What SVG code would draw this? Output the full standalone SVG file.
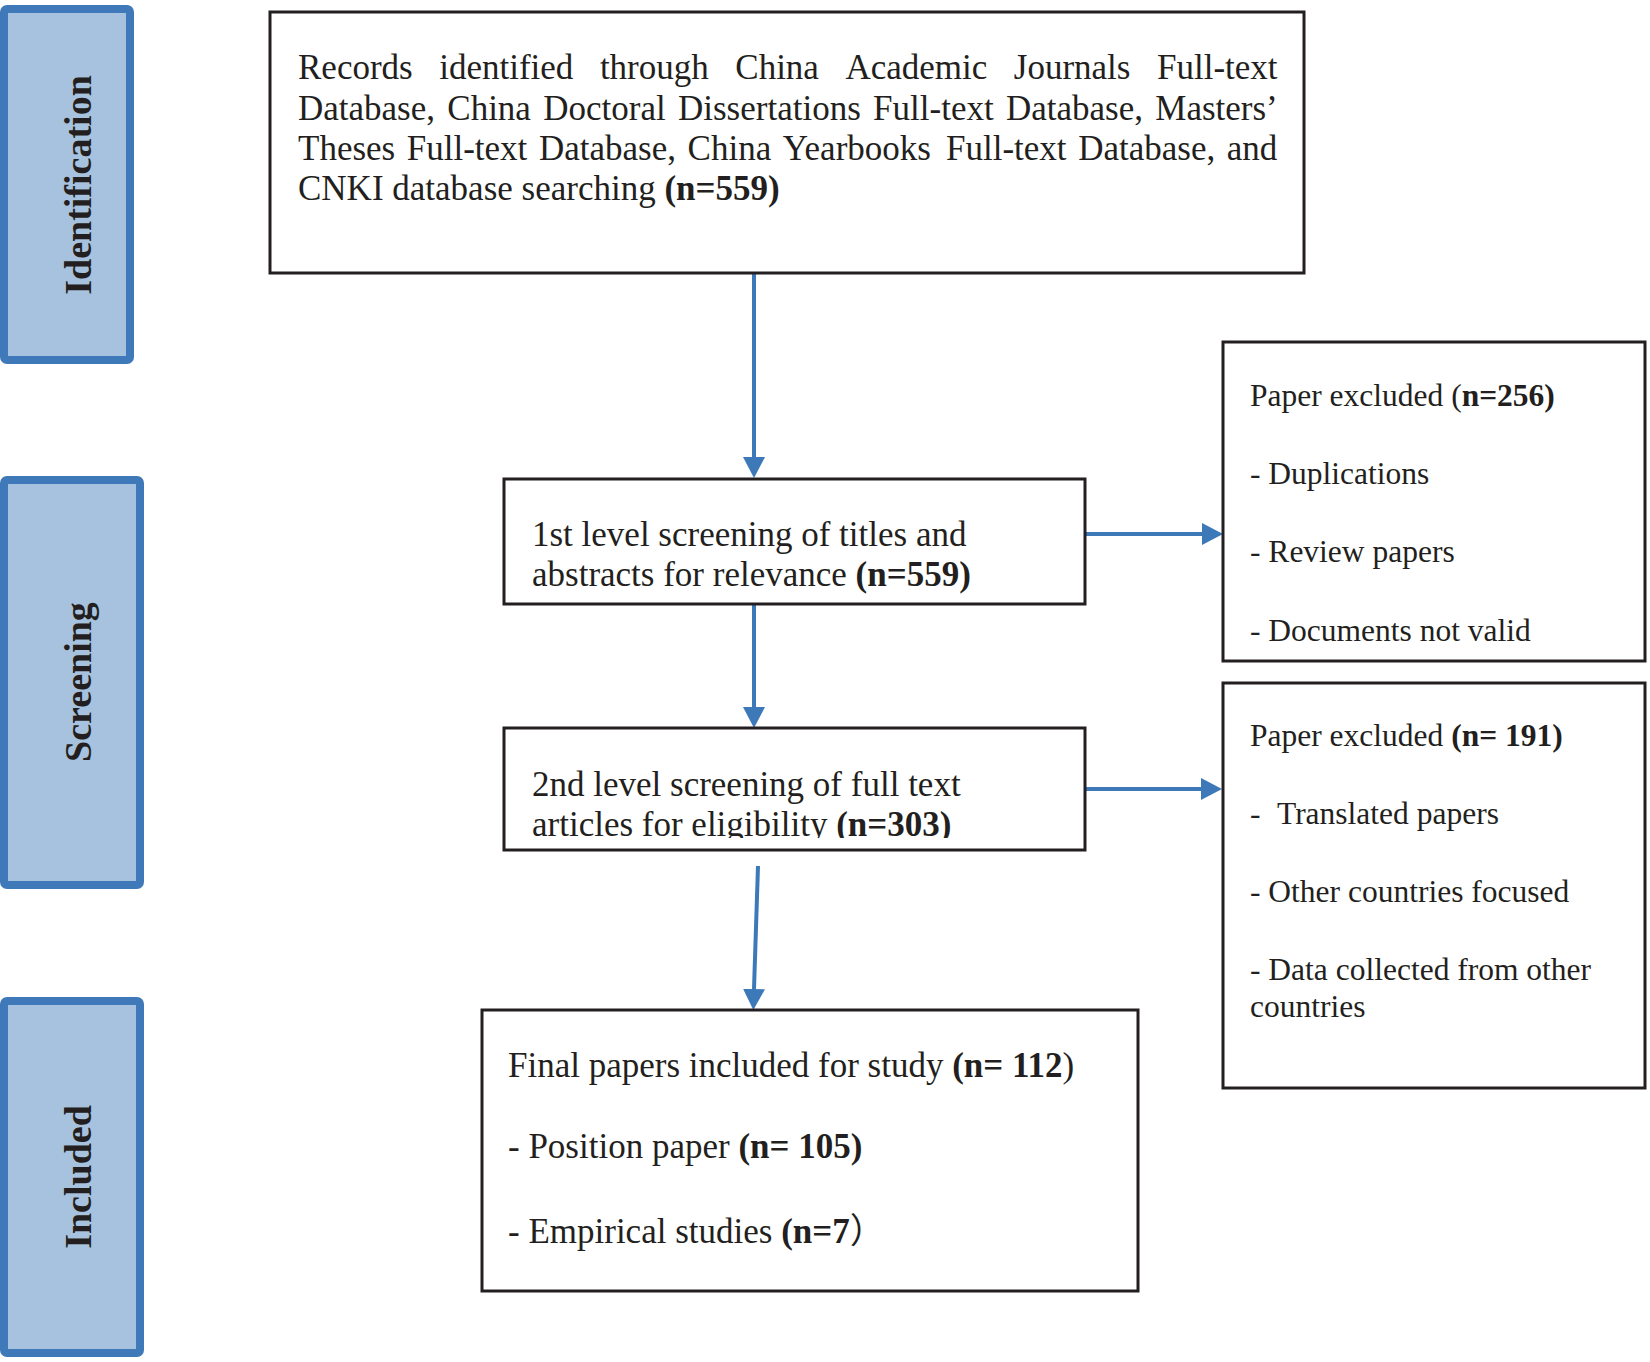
<svg xmlns="http://www.w3.org/2000/svg" width="1650" height="1362" viewBox="0 0 1650 1362">
<style>
.box{fill:#ffffff;stroke:#231f20;stroke-width:3}
.side{fill:#a7c2df;stroke:#3f79b9;stroke-width:8}
.t{font-family:"Liberation Serif","Times New Roman",serif;font-size:35px;fill:#231f20}
.r{font-size:31.5px}
.b{font-weight:bold}
.lab{font-family:"Liberation Serif","Times New Roman",serif;font-weight:bold;font-size:38px;text-anchor:middle;fill:#231f20}
.conn{stroke:#3d79b9;stroke-width:4;fill:none}
.cjk{font-family:"Liberation Serif","Noto Sans CJK SC",serif}
</style>
<defs>
<marker id="ah" viewBox="0 0 21 22" refX="0" refY="11" markerWidth="21" markerHeight="22" markerUnits="userSpaceOnUse" orient="auto">
<path d="M0,0 L21,11 L0,22 Z" fill="#3d79b9"/>
</marker>
<clipPath id="clip2"><rect x="504" y="728" width="581" height="110"/></clipPath>
</defs>
<rect width="1650" height="1362" fill="#ffffff"/>

<g id="phase-identification">
<rect class="side" x="4" y="9" width="126" height="351" rx="3"/>
<text class="lab" x="91" y="185" transform="rotate(-90 91 185)">Identification</text>
</g>
<g id="phase-screening">
<rect class="side" x="4" y="480" width="136" height="405" rx="3"/>
<text class="lab" x="91" y="682" transform="rotate(-90 91 682)">Screening</text>
</g>
<g id="phase-included">
<rect class="side" x="4" y="1001" width="136" height="352" rx="3"/>
<text class="lab" x="91" y="1177" transform="rotate(-90 91 1177)">Included</text>
</g>

<g id="connectors">
<line class="conn" x1="754" y1="274" x2="754" y2="457" marker-end="url(#ah)"/>
<line class="conn" x1="754" y1="604" x2="754" y2="707" marker-end="url(#ah)"/>
<line class="conn" x1="758" y1="866" x2="754" y2="989" marker-end="url(#ah)"/>
<line class="conn" x1="1085" y1="534" x2="1202" y2="534" marker-end="url(#ah)"/>
<line class="conn" x1="1085" y1="789" x2="1201" y2="789" marker-end="url(#ah)"/>
</g>

<g id="node-records">
<rect class="box" x="270" y="12" width="1034" height="261"/>
<text class="t" y="79"><tspan x="298">Records</tspan><tspan x="439.2">identified</tspan><tspan x="599.9">through</tspan><tspan x="735.3">China</tspan><tspan x="845.4">Academic</tspan><tspan x="1013.8">Journals</tspan><tspan x="1157">Full-text</tspan></text>
<text class="t" y="119.5"><tspan x="298">Database,</tspan><tspan x="447.3">China</tspan><tspan x="543.2">Doctoral</tspan><tspan x="678">Dissertations</tspan><tspan x="873.1">Full-text</tspan><tspan x="1006">Database,</tspan><tspan x="1155.3">Masters’</tspan></text>
<text class="t" y="160"><tspan x="298">Theses</tspan><tspan x="406.8">Full-text</tspan><tspan x="539">Database,</tspan><tspan x="687.6">China</tspan><tspan x="782.8">Yearbooks</tspan><tspan x="946">Full-text</tspan><tspan x="1078.2">Database,</tspan><tspan x="1226.8">and</tspan></text>
<text class="t" x="298" y="200">CNKI database searching <tspan class="b">(n=559)</tspan></text>
</g>

<g id="node-screen1">
<rect class="box" x="504" y="479" width="581" height="125"/>
<text class="t" x="532" y="546">1st level screening of titles and</text>
<text class="t" x="532" y="586">abstracts for relevance <tspan class="b">(n=559)</tspan></text>
</g>

<g id="node-screen2">
<rect class="box" x="504" y="728" width="581" height="122"/>
<text class="t" x="532" y="796">2nd level screening of full text</text>
<text class="t" x="532" y="836" clip-path="url(#clip2)">articles for eligibility <tspan class="b">(n=303)</tspan></text>
</g>

<g id="node-excluded1">
<rect class="box" x="1223" y="342" width="422" height="319"/>
<text class="t r" x="1250" y="406">Paper excluded (<tspan class="b">n=256)</tspan></text>
<text class="t r" x="1250" y="484">- Duplications</text>
<text class="t r" x="1250" y="562">- Review papers</text>
<text class="t r" x="1250" y="641">- Documents not valid</text>
</g>

<g id="node-excluded2">
<rect class="box" x="1223" y="683" width="422" height="405"/>
<text class="t r" x="1250" y="746">Paper excluded <tspan class="b">(n= 191)</tspan></text>
<text class="t r" y="824"><tspan x="1250">-</tspan><tspan x="1277">Translated papers</tspan></text>
<text class="t r" x="1250" y="902">- Other countries focused</text>
<text class="t r" x="1250" y="980">- Data collected from other</text>
<text class="t r" x="1250" y="1017">countries</text>
</g>

<g id="node-final">
<rect class="box" x="482" y="1010" width="656" height="281"/>
<text class="t" x="508" y="1077">Final papers included for study <tspan class="b">(n= 112</tspan>)</text>
<text class="t" x="508" y="1158">- Position paper <tspan class="b">(n= 105)</tspan></text>
<text class="t" x="508" y="1243">- Empirical studies <tspan class="b">(n=7</tspan><tspan class="cjk">）</tspan></text>
</g>
</svg>
